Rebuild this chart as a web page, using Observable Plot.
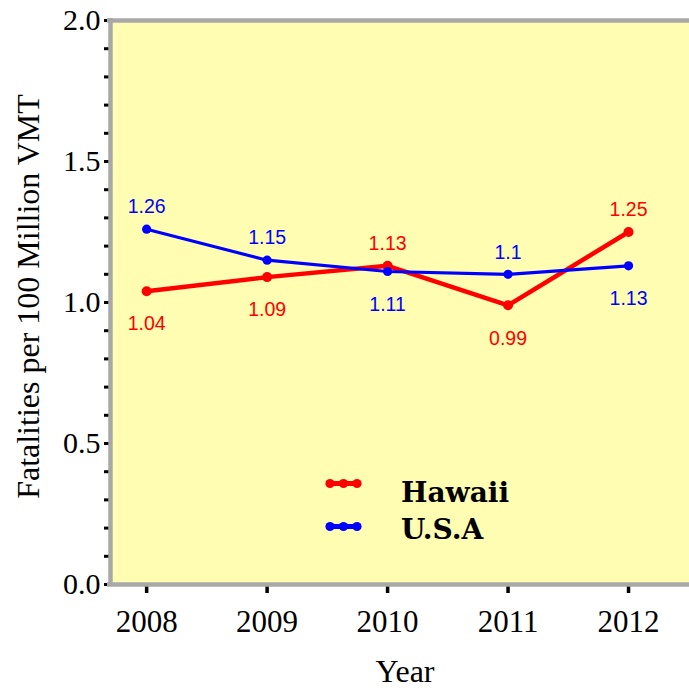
<!DOCTYPE html>
<html><head><meta charset="utf-8">
<script src="https://cdn.jsdelivr.net/npm/d3@7"></script>
<script src="https://cdn.jsdelivr.net/npm/@observablehq/plot@0.6"></script>
<style>
body{margin:0;background:#fff}
#chart{position:relative;width:689px;height:689px}
#legend{position:absolute;left:0;top:0;pointer-events:none}
</style>
</head><body><div id="chart"></div>
<script>
// ---- data ----
const years = [2008, 2009, 2010, 2011, 2012];
const hawaii = [1.04, 1.09, 1.13, 0.99, 1.25];
const usa = [1.26, 1.15, 1.11, 1.10, 1.13];
const hawaiiLabelSide = ["below", "below", "above", "below", "above"];
const usaLabelSide = ["above", "above", "below", "above", "below"];
const seriesNames = ["Hawaii", "U.S.A"];
const seriesColors = ["#ff0000", "#0000ff"];
const yMajorTicks = [0.0, 0.5, 1.0, 1.5, 2.0];
const yMinorTicks = [0.0, 0.1, 0.2, 0.3, 0.4, 0.5, 0.6, 0.7, 0.8, 0.9, 1.0, 1.1, 1.2, 1.3, 1.4, 1.5, 1.6, 1.7, 1.8, 1.9, 2.0];
const xTicks = [2008, 2009, 2010, 2011, 2012];
const xTitle = "Year";
const yTitle = "Fatalities per 100 Million VMT";

// ---- build rows ----
const rows = [];
years.forEach((yr, i) => rows.push({year: yr, value: hawaii[i], series: "Hawaii", side: hawaiiLabelSide[i]}));
years.forEach((yr, i) => rows.push({year: yr, value: usa[i], series: "U.S.A", side: usaLabelSide[i]}));
const colorOf = s => seriesColors[seriesNames.indexOf(s)];

const xDomain = [2007.7, 2012.506];
const yDomain = [0, 2];
const border = "#a8a8a8";
const bg = "#fffdb2";
const serif = "'Liberation Serif', 'Times New Roman', serif";
const sans = "'Liberation Sans', Arial, sans-serif";

const seriesMarks = [];
seriesNames.forEach((s, si) => {
  const d = rows.filter(r => r.series === s);
  seriesMarks.push(Plot.line(d, {x: "year", y: "value", stroke: seriesColors[si], strokeWidth: si === 0 ? 4.5 : 3.2}));
  seriesMarks.push(Plot.dot(d, {x: "year", y: "value", fill: seriesColors[si], r: si === 0 ? 5 : 4.6, stroke: "none"}));
});

const labelCommon = {x: "year", y: "value", text: d => String(d.value), fill: d => colorOf(d.series),
  fontFamily: sans, fontSize: 19.5, textAnchor: "middle"};

const plot = Plot.plot({
  width: 689, height: 689,
  marginLeft: 110, marginRight: 0, marginTop: 20, marginBottom: 105,
  x: {domain: xDomain, type: "linear"},
  y: {domain: yDomain},
  style: {background: "white", fontFamily: serif, overflow: "visible"},
  marks: [
    Plot.frame({fill: bg, stroke: null}),
    ...seriesMarks,
    Plot.text(rows.filter(r => r.side === "above"), {...labelCommon, dy: -22}),
    Plot.text(rows.filter(r => r.side === "below"), {...labelCommon, dy: 33}),
    Plot.axisY({ticks: yMinorTicks, tickSize: 6, strokeWidth: 3, tickFormat: () => "", label: null, stroke: "black"}),
    Plot.axisY({ticks: yMajorTicks, tickSize: 6, strokeWidth: 3, tickPadding: 4, tickFormat: d3.format(".1f"),
      fontSize: 30, fontFamily: serif, fill: "black", label: null, stroke: "black"}),
    Plot.axisX({ticks: xTicks, tickSize: 9, strokeWidth: 3.5, tickPadding: 16, tickFormat: d => String(d),
      fontSize: 31, fontFamily: serif, fill: "black", label: null, stroke: "black"}),
    Plot.ruleY([yDomain[0], yDomain[1]], {stroke: border, strokeWidth: 4.5, insetLeft: -3}),
    Plot.ruleX([xDomain[0]], {stroke: border, strokeWidth: 4.5, insetTop: -2, insetBottom: -2}),
    Plot.text([xTitle], {frameAnchor: "bottom", dx: 5, dy: 97, fontSize: 32, fontFamily: serif, fill: "black"}),
    Plot.text([yTitle], {frameAnchor: "left", textAnchor: "middle", rotate: -90, dx: -82, dy: -6, fontSize: 32, fontFamily: serif, fill: "black"})
  ]
});

const chart = document.getElementById("chart");
chart.appendChild(plot);

// ---- legend (overlay) ----
const lg = d3.select(chart).append("svg").attr("id", "legend").attr("width", 689).attr("height", 689);
const legendLineY = [483.5, 526.5];
const legendTextY = [492, 529];
seriesNames.forEach((s, i) => {
  const g = lg.append("g");
  g.append("line").attr("x1", 326).attr("x2", 361).attr("y1", legendLineY[i]).attr("y2", legendLineY[i])
    .attr("stroke", seriesColors[i]).attr("stroke-width", 5);
  [330, 343.5, 357].forEach(cx => g.append("circle").attr("cx", cx).attr("cy", legendLineY[i]).attr("r", 4.6).attr("fill", seriesColors[i]));
  g.append("text").attr("x", 401).attr("y", legendTextY[i]).attr("dominant-baseline", "central")
    .attr("font-family", "'DejaVu Serif', serif").attr("font-weight", "bold").attr("font-size", 28)
    .attr("fill", "black").text(s);
});
</script>
</body></html>
